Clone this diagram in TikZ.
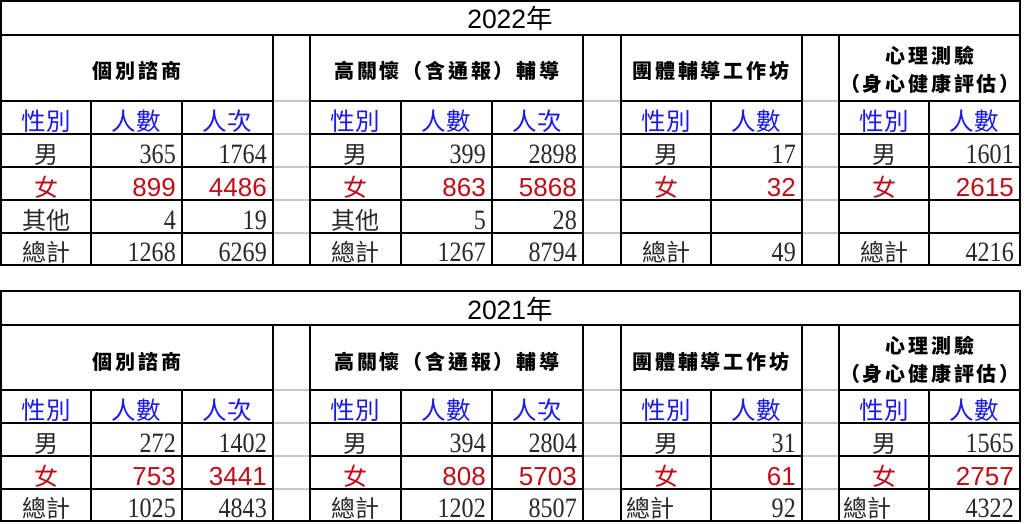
\documentclass[tikz,border=0pt]{standalone}
\usepackage{fontspec}
\usepackage{xcolor}
\usepackage{tikz}
\setmainfont{Liberation Serif}
\newfontfamily\cjkfont{Noto Sans CJK TC}
\newfontfamily\headfont[LetterSpace=14]{Noto Sans CJK TC}
\newfontfamily\numfont[FakeStretch=0.86]{Liberation Serif}
\newfontfamily\arialfont{Liberation Sans}
\definecolor{subblue}{RGB}{25,25,235}
\definecolor{femred}{RGB}{192,12,22}
\definecolor{numgray}{RGB}{40,40,40}

\begin{document}
\begin{tikzpicture}[x=1pt,y=-1pt]
	\tikzstyle{grid}=[line width=1.6pt, black]
	\tikzstyle{gapline}=[line width=1.4pt, black!22]
	\tikzstyle{title}=[anchor=base, inner sep=0pt, font=\fontsize{26.5}{26.5}\selectfont]
	\tikzstyle{head}=[anchor=base, inner sep=0pt, font=\fontsize{20}{20}\selectfont\headfont\bfseries]
	\tikzstyle{sub}=[anchor=base, inner sep=0pt, text=subblue, font=\fontsize{24.5}{24.5}\selectfont\cjkfont]
	\tikzstyle{sex}=[anchor=base, inner sep=0pt, text=numgray, font=\fontsize{24}{24}\selectfont\cjkfont]
	\tikzstyle{fsex}=[anchor=base, inner sep=0pt, text=femred, font=\fontsize{24}{24}\selectfont\cjkfont]
	\tikzstyle{lsex}=[sex, anchor=base west]
	\tikzstyle{num}=[anchor=base east, inner sep=0pt, text=numgray, font=\fontsize{28}{28}\selectfont\numfont]
	\tikzstyle{fnum}=[anchor=base east, inner sep=0pt, text=femred, font=\fontsize{26}{26}\selectfont\arialfont]

	\useasboundingbox (0,0) rectangle (1024,523);

	% ---------------- 2022 ----------------
	\foreach \y in {101,134,167,200,233} {
		\draw[gapline] (273,\y) -- (310,\y) (583,\y) -- (621,\y) (802,\y) -- (839,\y);
		\draw[grid] (1,\y) -- (273,\y) (310,\y) -- (583,\y) (621,\y) -- (802,\y) (839,\y) -- (1020,\y);
	}
	\foreach \x in {273,310,583,621,802,839} \draw[grid] (\x,35) -- (\x,265);
	\foreach \x in {91,182,401,492,711,929} \draw[grid] (\x,101) -- (\x,265);
	\draw[grid] (1,35) -- (1020,35);
	\draw[grid] (1,1) rectangle (1020,265);

	\node[title] (t22) at (510,28) {\arialfont 2022\cjkfont 年};
	\node[head] (a22h) at (137,78) {個別諮商};
	\node[head] (b22h) at (447,78) {高關懷（含通報）輔導};
	\node[head] (c22h) at (711,78) {團體輔導工作坊};
	\node[head] (d22h1) at (930,63) {心理測驗};
	\node[head] (d22h2) at (930,91) {（身心健康評估）};

	\node[sub] (a22s1) at (46,130) {性別};
	\node[sub] (a22s2) at (136,130) {人數};
	\node[sub] (a22s3) at (227,130) {人次};
	\node[sub] (b22s1) at (355,130) {性別};
	\node[sub] (b22s2) at (446,130) {人數};
	\node[sub] (b22s3) at (537,130) {人次};
	\node[sub] (c22s1) at (666,130) {性別};
	\node[sub] (c22s2) at (756,130) {人數};
	\node[sub] (d22s1) at (884,130) {性別};
	\node[sub] (d22s2) at (974,130) {人數};

	\foreach \y/\s/\n/\m/\ss/\ns [count=\i] in {163/男/365/1764/sex/num, 196/女/899/4486/fsex/fnum, 229/其他/4/19/sex/num, 261/總計/1268/6269/sex/num} {
		\node[\ss] (a22-\i) at (46,\y) {\s};
		\node[\ns] (a22n-\i) at (176,\y) {\n};
		\node[\ns] (a22m-\i) at (267,\y) {\m};
	}
	\foreach \y/\s/\n/\m/\ss/\ns [count=\i] in {163/男/399/2898/sex/num, 196/女/863/5868/fsex/fnum, 229/其他/5/28/sex/num, 261/總計/1267/8794/sex/num} {
		\node[\ss] (b22-\i) at (355,\y) {\s};
		\node[\ns] (b22n-\i) at (486,\y) {\n};
		\node[\ns] (b22m-\i) at (577,\y) {\m};
	}
	\foreach \y/\s/\n/\ss/\ns [count=\i] in {163/男/17/sex/num, 196/女/32/fsex/fnum, 261/總計/49/sex/num} {
		\node[\ss] (c22-\i) at (666,\y) {\s};
		\node[\ns] (c22n-\i) at (796,\y) {\n};
	}
	\foreach \y/\s/\n/\ss/\ns [count=\i] in {163/男/1601/sex/num, 196/女/2615/fsex/fnum, 261/總計/4216/sex/num} {
		\node[\ss] (d22-\i) at (884,\y) {\s};
		\node[\ns] (d22n-\i) at (1014,\y) {\n};
	}

	% ---------------- 2021 ----------------
	\foreach \y in {390,423,456,489} {
		\draw[gapline] (273,\y) -- (310,\y) (583,\y) -- (621,\y) (802,\y) -- (839,\y);
		\draw[grid] (1,\y) -- (273,\y) (310,\y) -- (583,\y) (621,\y) -- (802,\y) (839,\y) -- (1020,\y);
	}
	\foreach \x in {273,310,583,621,802,839} \draw[grid] (\x,325) -- (\x,521);
	\foreach \x in {91,182,401,492,711,929} \draw[grid] (\x,390) -- (\x,521);
	\draw[grid] (1,325) -- (1020,325);
	\draw[grid] (1,291) rectangle (1020,521);

	\node[title] (t21) at (510,319) {\arialfont 2021\cjkfont 年};
	\node[head] (a21h) at (137,369) {個別諮商};
	\node[head] (b21h) at (447,369) {高關懷（含通報）輔導};
	\node[head] (c21h) at (711,369) {團體輔導工作坊};
	\node[head] (d21h1) at (930,353) {心理測驗};
	\node[head] (d21h2) at (930,381) {（身心健康評估）};

	\node[sub] (a21s1) at (46,419) {性別};
	\node[sub] (a21s2) at (136,419) {人數};
	\node[sub] (a21s3) at (227,419) {人次};
	\node[sub] (b21s1) at (355,419) {性別};
	\node[sub] (b21s2) at (446,419) {人數};
	\node[sub] (b21s3) at (537,419) {人次};
	\node[sub] (c21s1) at (666,419) {性別};
	\node[sub] (c21s2) at (756,419) {人數};
	\node[sub] (d21s1) at (884,419) {性別};
	\node[sub] (d21s2) at (974,419) {人數};

	\foreach \y/\s/\n/\m/\ss/\ns [count=\i] in {452/男/272/1402/sex/num, 485/女/753/3441/fsex/fnum, 517/總計/1025/4843/sex/num} {
		\node[\ss] (a21-\i) at (46,\y) {\s};
		\node[\ns] (a21n-\i) at (176,\y) {\n};
		\node[\ns] (a21m-\i) at (267,\y) {\m};
	}
	\foreach \y/\s/\n/\m/\ss/\ns [count=\i] in {452/男/394/2804/sex/num, 485/女/808/5703/fsex/fnum, 517/總計/1202/8507/sex/num} {
		\node[\ss] (b21-\i) at (355,\y) {\s};
		\node[\ns] (b21n-\i) at (486,\y) {\n};
		\node[\ns] (b21m-\i) at (577,\y) {\m};
	}
	\node[sex] (c21-1) at (666,452) {男};
	\node[num] (c21n-1) at (796,452) {31};
	\node[fsex] (c21-2) at (666,485) {女};
	\node[fnum] (c21n-2) at (796,485) {61};
	\node[lsex] (c21-3) at (626,517) {總計};
	\node[num] (c21n-3) at (796,517) {92};
	\node[sex] (d21-1) at (884,452) {男};
	\node[num] (d21n-1) at (1014,452) {1565};
	\node[fsex] (d21-2) at (884,485) {女};
	\node[fnum] (d21n-2) at (1014,485) {2757};
	\node[lsex] (d21-3) at (843,517) {總計};
	\node[num] (d21n-3) at (1014,517) {4322};
\end{tikzpicture}
\end{document}
